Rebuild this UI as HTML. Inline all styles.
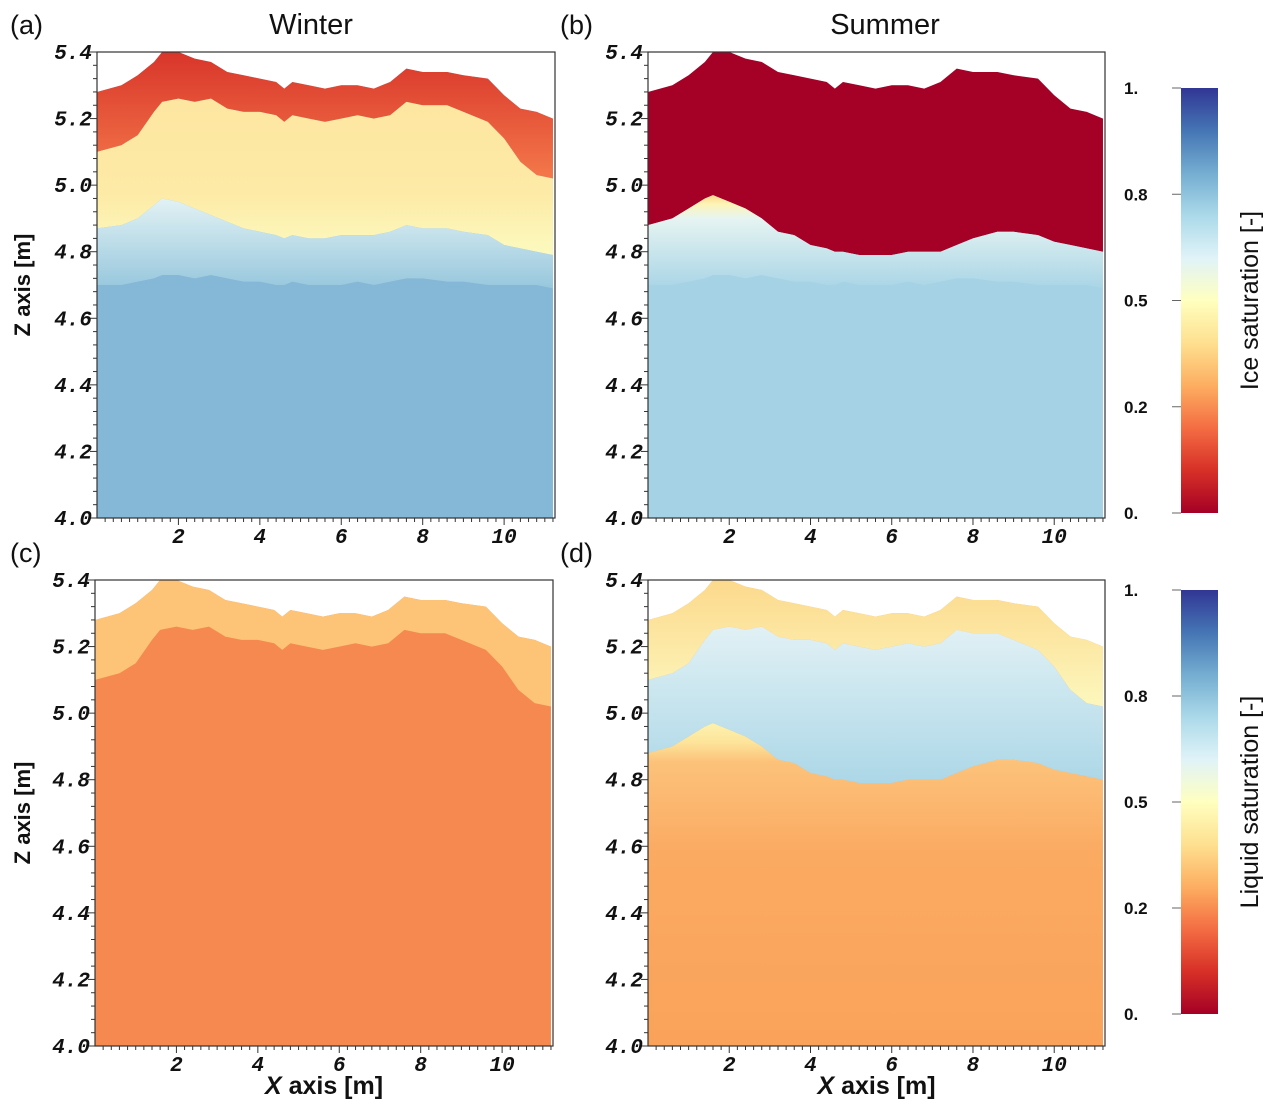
<!DOCTYPE html>
<html><head><meta charset="utf-8">
<style>
body{margin:0;background:#fff;}
svg{display:block;font-family:"Liberation Sans",sans-serif;}
.tk{font-family:"Liberation Mono",monospace;font-weight:bold;font-style:italic;font-size:21px;fill:#111;}
.cb{font-family:"Liberation Sans",sans-serif;font-weight:bold;font-size:17px;fill:#111;}
</style></head>
<body>
<svg id="fig" width="1275" height="1113" viewBox="0 0 1275 1113">
<defs>
<linearGradient id="gWred" x1="0" y1="0" x2="0" y2="1"><stop offset="0" stop-color="#d8352a"/><stop offset="1" stop-color="#f4784a"/></linearGradient>
<linearGradient id="gWyel" x1="0" y1="0" x2="0" y2="1"><stop offset="0" stop-color="#fde6a0"/><stop offset="0.6" stop-color="#fdeaa6"/><stop offset="1" stop-color="#fcfabf"/></linearGradient>
<linearGradient id="gWblu" x1="0" y1="0" x2="0" y2="1"><stop offset="0" stop-color="#e2f2f4"/><stop offset="1" stop-color="#97c7dd"/></linearGradient>
<linearGradient id="gSblu" x1="0" y1="0" x2="0" y2="1"><stop offset="0" stop-color="#fbd88a"/><stop offset="0.1" stop-color="#fdf5b8"/><stop offset="0.25" stop-color="#e6f4f2"/><stop offset="1" stop-color="#a9d5e6"/></linearGradient>
<linearGradient id="gLyel" x1="0" y1="0" x2="0" y2="1"><stop offset="0" stop-color="#fcd98c"/><stop offset="1" stop-color="#fcf7bd"/></linearGradient>
<linearGradient id="gLblu" x1="0" y1="0" x2="0" y2="1"><stop offset="0" stop-color="#e1f1f5"/><stop offset="1" stop-color="#acd7e7"/></linearGradient>
<linearGradient id="gLora" x1="0" y1="0" x2="0" y2="1"><stop offset="0" stop-color="#fdf2b0"/><stop offset="0.06" stop-color="#fde49a"/><stop offset="0.12" stop-color="#fcc27a"/><stop offset="0.4" stop-color="#fbaa62"/><stop offset="1" stop-color="#faa25a"/></linearGradient>
<linearGradient id="gCb" x1="0" y1="1" x2="0" y2="0">
<stop offset="0" stop-color="#a50026"/><stop offset="0.1" stop-color="#d73027"/><stop offset="0.2" stop-color="#f46d43"/><stop offset="0.3" stop-color="#fdae61"/><stop offset="0.4" stop-color="#fee090"/><stop offset="0.5" stop-color="#ffffbf"/><stop offset="0.6" stop-color="#e0f3f8"/><stop offset="0.7" stop-color="#abd9e9"/><stop offset="0.8" stop-color="#74add1"/><stop offset="0.9" stop-color="#4575b4"/><stop offset="1" stop-color="#313695"/></linearGradient>
</defs>
</svg>
<script>
const xs=[0,0.6,1,1.4,1.6,2,2.4,2.8,3.2,3.6,4,4.4,4.6,4.8,5.2,5.6,6,6.4,6.8,7.2,7.6,8,8.6,9,9.6,10,10.4,10.8,11.2];
const surface=[5.28,5.30,5.33,5.37,5.40,5.40,5.38,5.37,5.34,5.33,5.32,5.31,5.29,5.31,5.30,5.29,5.30,5.30,5.29,5.31,5.35,5.34,5.34,5.33,5.32,5.27,5.23,5.22,5.20];
const redBoundary=[5.10,5.12,5.15,5.22,5.25,5.26,5.25,5.26,5.23,5.22,5.22,5.21,5.19,5.21,5.20,5.19,5.20,5.21,5.20,5.21,5.25,5.24,5.24,5.22,5.19,5.14,5.07,5.03,5.02];
const yellowBoundary=[4.87,4.88,4.90,4.94,4.96,4.95,4.93,4.91,4.89,4.87,4.86,4.85,4.84,4.85,4.84,4.84,4.85,4.85,4.85,4.86,4.88,4.87,4.87,4.86,4.85,4.82,4.81,4.80,4.79];
const blueBoundary=[4.70,4.70,4.71,4.72,4.73,4.73,4.72,4.73,4.72,4.71,4.71,4.70,4.70,4.71,4.70,4.70,4.70,4.71,4.70,4.71,4.72,4.72,4.71,4.71,4.70,4.70,4.70,4.70,4.69];
const summerBoundary=[4.88,4.90,4.93,4.96,4.97,4.95,4.93,4.90,4.86,4.85,4.82,4.81,4.80,4.80,4.79,4.79,4.79,4.80,4.80,4.80,4.82,4.84,4.86,4.86,4.85,4.83,4.82,4.81,4.80];
const xTicks=[2,4,6,8,10];
const zTicks=[4.0,4.2,4.4,4.6,4.8,5.0,5.2,5.4];
const cbTicks=["0.","0.2","0.5","0.8","1."];

const NS="http://www.w3.org/2000/svg";
const svg=document.getElementById('fig');
function mk(tag,attrs,parent){const e=document.createElementNS(NS,tag);for(const k in attrs)e.setAttribute(k,attrs[k]);(parent||svg).appendChild(e);return e;}

const panels=[
 {id:'a',x0:97,x1:555,y0:52,y1:518,label:'(a)',lx:10,ly:34,title:'Winter',tx:311,base:'#84b8d6',
  layers:[[surface,redBoundary,'url(#gWred)'],[redBoundary,yellowBoundary,'url(#gWyel)'],[yellowBoundary,blueBoundary,'url(#gWblu)']],zt:true,xt:false},
 {id:'b',x0:648,x1:1105,y0:52,y1:518,label:'(b)',lx:560,ly:34,title:'Summer',tx:885,base:'#a5d2e4',
  layers:[[surface,summerBoundary,'#a50026'],[summerBoundary,blueBoundary,'url(#gSblu)']],zt:false,xt:false},
 {id:'c',x0:95,x1:553,y0:580,y1:1046,label:'(c)',lx:10,ly:562,title:null,base:'#f5894f',
  layers:[[surface,redBoundary,'#fdc477']],zt:true,xt:true},
 {id:'d',x0:648,x1:1105,y0:580,y1:1046,label:'(d)',lx:560,ly:562,title:null,base:'#f9a55c',
  layers:[[surface,redBoundary,'url(#gLyel)'],[redBoundary,summerBoundary,'url(#gLblu)']],zt:false,xt:true}
];

panels.forEach(p=>{
 const sx=v=>p.x0+(v/11.25)*(p.x1-p.x0);
 const sz=v=>p.y1-(v-4.0)/1.4*(p.y1-p.y0);
 const g=mk('g',{});
 
 
 let pts=xs.map((x,i)=>sx(x)+','+sz(surface[i])).join(' ');
 const base=mk('polygon',{points:pts+' '+sx(11.2)+','+p.y1+' '+sx(0)+','+p.y1,fill:p.base},g);
 
 
 if(p.id==='d'){
   const o=mk('polygon',{points:xs.map((x,i)=>sx(x)+','+sz(summerBoundary[i])).join(' ')+' '+sx(11.2)+','+p.y1+' '+sx(0)+','+p.y1,fill:'url(#gLora)'},g);
   
   
 }
 p.layers.forEach((L,li)=>{
   const top=L[0],bot=L[1];
   const a=xs.map((x,i)=>sx(x)+','+sz(top[i]));
   const b=xs.map((x,i)=>sx(x)+','+sz(bot[i])).reverse();
   const poly=mk('polygon',{points:a.concat(b).join(' '),fill:L[2]},g);
   
   
 });
 const fr=mk('rect',{x:p.x0,y:p.y0,width:p.x1-p.x0,height:p.y1-p.y0,fill:'none',stroke:'#333','stroke-width':1.2},g);
 
 
 for(let z=4.0;z<=5.401;z+=0.04){mk('line',{x1:p.x0-(Math.abs((z*10)%2)<0.01||Math.abs((z*10)%2-2)<0.01?7:4),x2:p.x0,y1:sz(z),y2:sz(z),stroke:'#333','stroke-width':1},g);}
 for(let x=0.2;x<=11.21;x+=0.2){mk('line',{x1:sx(x),x2:sx(x),y1:p.y1,y2:p.y1+(Math.abs(x%2)<0.01||Math.abs(x%2-2)<0.01?7:4),stroke:'#333','stroke-width':1},g);}
 zTicks.forEach(z=>{
   const t=mk('text',{x:p.x0-5,y:sz(z)+7,'text-anchor':'end',class:'tk'},g);
   t.textContent=z.toFixed(1);
   
   
 });
 xTicks.forEach(x=>{
   const t=mk('text',{x:sx(x),y:p.y1+25,'text-anchor':'middle',class:'tk'},g);
   t.textContent=x;
   
   
 });
 const lb=mk('text',{x:p.lx,y:p.ly,'font-size':27,fill:'#111'},g);
 lb.textContent=p.label;
 
 
 if(p.title){const t=mk('text',{x:p.tx,y:34,'font-size':29,'text-anchor':'middle',fill:'#111'},g);t.textContent=p.title;
   
   }
 if(p.zt){const t=mk('text',{transform:'translate(30,'+((p.y0+p.y1)/2)+') rotate(-90)','text-anchor':'middle','font-size':22,'font-weight':'bold',fill:'#111'},g);
   t.textContent='Z axis [m]';
   
   }
 if(p.xt){const t=mk('text',{x:(p.x0+p.x1)/2,y:1094,'text-anchor':'middle','font-size':25,'font-weight':'bold',fill:'#111'},g);
   t.innerHTML='<tspan font-style="italic">X</tspan> axis [m]';
   
   }
});

[[88,513,'Ice saturation [-]'],[590,1014,'Liquid saturation [-]']].forEach((c,ci)=>{
 const g=mk('g',{});
 
 
 mk('rect',{x:1181,y:c[0],width:37,height:c[1]-c[0],fill:'url(#gCb)'},g);
 cbTicks.forEach((lab,i)=>{
   const y=c[1]-i*(c[1]-c[0])/(cbTicks.length-1);
   mk('line',{x1:1172,x2:1181,y1:y,y2:y,stroke:'#666','stroke-width':1},g);
   const t=mk('text',{x:1124,y:y+6,class:'cb'},g);
   t.textContent=lab;
   
   
 });
 const t=mk('text',{transform:'translate(1258,'+((c[0]+c[1])/2)+') rotate(-90)','text-anchor':'middle','font-size':25,fill:'#111'},g);
 t.textContent=c[2];
 
 
});
</script>
</body></html>
